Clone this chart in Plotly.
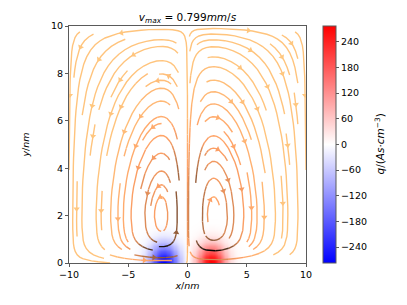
import math
import numpy as np
import plotly.graph_objects as go

# ---------------- values ----------------
x_limits = [-10.0, 10.0]
y_limits = [0.0, 10.0]
x_tick_vals = [-10, -5, 0, 5, 10]
y_tick_vals = [0, 2, 4, 6, 8, 10]
q_tick_vals = [-240, -180, -120, -60, 0, 60, 120, 180, 240]
q_limits = [-277.0, 277.0]
v_max_label = "0.799"

# charge clouds sitting on the lower wall (q in As/cm^3)
charge_centre_x = [-2.0, 2.0]
charge_peak = [-277.0, 277.0]
charge_width_x = [1.2, 1.2]
charge_width_y = [0.75, 0.75]

# stream-function shape parameters of the two counter-rotating cells
cell_decay_x = 2.35     # puts the cell centres at |x| ~ 2.2 nm
cell_layer_y = 0.6      # thickness of the fast layer above the charges
cell_offset_y = 0.5     # together with cell_decay_y puts the centres at y ~ 2 nm
cell_decay_y = 6.67
cell_centre = [2.2, 2.0]   # centre of the rounding factor
cell_round = [3.8, 5.2]    # x / y radii of the rounding factor

# ---------------- fields on a regular grid ----------------
xs = np.linspace(x_limits[0], x_limits[1], 201)
ys = np.linspace(y_limits[0], y_limits[1], 101)
X, Y = np.meshgrid(xs, ys)

q = np.zeros_like(X)
for xc, pk, wx, wy in zip(charge_centre_x, charge_peak, charge_width_x, charge_width_y):
    q += pk * np.exp(-((X - xc) / wx) ** 2 - (Y / wy) ** 2)

L = x_limits[1]
H = y_limits[1]
S = np.abs(X)
F = np.sign(X) * S ** 1.5 * np.exp(-S / cell_decay_x) * (1 - S / L) ** 2
G = (1 - np.exp(-(Y / cell_layer_y) ** 2)) * (Y + cell_offset_y) * (1 - Y / H) ** 2 * np.exp(-Y / cell_decay_y)
R = 1.0 / (1.0 + ((S - cell_centre[0]) / cell_round[0]) ** 2 + ((Y - cell_centre[1]) / cell_round[1]) ** 2)
psi = -F * G * R
U = np.gradient(psi, ys, axis=0)
V = -np.gradient(psi, xs, axis=1)
for arr in (U, V):
    arr[0, :] = 0.0
    arr[-1, :] = 0.0
    arr[:, 0] = 0.0
    arr[:, -1] = 0.0
speed = np.sqrt(U ** 2 + V ** 2)


# ---------------- streamline tracing (matplotlib-style) ----------------
class _OutOfBounds(Exception):
    pass


class _Terminate(Exception):
    pass


class _InvalidIndex(Exception):
    pass


def stream_trajectories(xs, ys, u, v, density=1.0, minlength=0.1, maxlength=4.0):
    ny, nx = u.shape
    dx = xs[1] - xs[0]
    dy = ys[1] - ys[0]
    mnx = mny = int(30 * density)
    mask = [[0] * mnx for _ in range(mny)]
    x_g2m = (mnx - 1) / (nx - 1)
    y_g2m = (mny - 1) / (ny - 1)
    x_m2g = 1.0 / x_g2m
    y_m2g = 1.0 / y_g2m
    ug_a = u / dx
    vg_a = v / dy
    spd = np.sqrt((ug_a / (nx - 1)) ** 2 + (vg_a / (ny - 1)) ** 2).tolist()
    ug = ug_a.tolist()
    vg = vg_a.tolist()
    st = {'cur': None, 'traj': []}

    def within(xi, yi):
        return 0 <= xi <= nx - 1 and 0 <= yi <= ny - 1

    def interp(a, xi, yi):
        x = int(xi)
        y = int(yi)
        xn = x if x == nx - 1 else x + 1
        yn = y if y == ny - 1 else y + 1
        xt = xi - x
        yt = yi - y
        a0 = a[y][x] * (1 - xt) + a[y][xn] * xt
        a1 = a[yn][x] * (1 - xt) + a[yn][xn] * xt
        return a0 * (1 - yt) + a1 * yt

    def make_f(sign):
        def f(xi, yi):
            if not within(xi, yi):
                raise _OutOfBounds
            ds_dt = interp(spd, xi, yi)
            if ds_dt == 0:
                raise _Terminate
            dt_ds = sign / ds_dt
            return interp(ug, xi, yi) * dt_ds, interp(vg, xi, yi) * dt_ds
        return f

    f_fwd = make_f(1.0)
    f_bwd = make_f(-1.0)

    def grid2mask(xi, yi):
        return round(xi * x_g2m), round(yi * y_g2m)

    def mask_update(xm, ym):
        if st['cur'] != (xm, ym):
            if mask[ym][xm] == 0:
                st['traj'].append((ym, xm))
                mask[ym][xm] = 1
                st['cur'] = (xm, ym)
            else:
                raise _InvalidIndex

    def update_traj(xg, yg):
        if not within(xg, yg):
            raise _InvalidIndex
        xm, ym = grid2mask(xg, yg)
        mask_update(xm, ym)

    def euler(traj, f):
        xi, yi = traj[-1]
        cx, cy = f(xi, yi)
        if cx == 0:
            dsx = math.inf
        elif cx < 0:
            dsx = xi / -cx
        else:
            dsx = (nx - 1 - xi) / cx
        if cy == 0:
            dsy = math.inf
        elif cy < 0:
            dsy = yi / -cy
        else:
            dsy = (ny - 1 - yi) / cy
        ds = min(dsx, dsy)
        traj.append((xi + cx * ds, yi + cy * ds))
        return ds

    maxds = min(1.0 / mnx, 1.0 / mny, 0.1)

    def rk12(x0, y0, f):
        maxerror = 0.003
        ds = maxds
        stotal = 0.0
        xi, yi = x0, y0
        traj = []
        while True:
            try:
                if within(xi, yi):
                    traj.append((xi, yi))
                else:
                    raise _OutOfBounds
                k1x, k1y = f(xi, yi)
                k2x, k2y = f(xi + ds * k1x, yi + ds * k1y)
            except _OutOfBounds:
                if traj:
                    try:
                        stotal += euler(traj, f)
                    except (_Terminate, _OutOfBounds):
                        pass
                break
            except _Terminate:
                break
            dx1 = ds * k1x
            dy1 = ds * k1y
            dx2 = ds * 0.5 * (k1x + k2x)
            dy2 = ds * 0.5 * (k1y + k2y)
            error = math.hypot((dx2 - dx1) / (nx - 1), (dy2 - dy1) / (ny - 1))
            if error < maxerror:
                xi += dx2
                yi += dy2
                try:
                    update_traj(xi, yi)
                except _InvalidIndex:
                    break
                if stotal + ds > maxlength:
                    break
                stotal += ds
            if error == 0:
                ds = maxds
            else:
                ds = min(maxds, 0.85 * ds * (maxerror / error) ** 0.5)
        return stotal, traj

    def integrate(x0, y0):
        st['traj'] = []
        xm, ym = grid2mask(x0, y0)
        try:
            mask_update(xm, ym)
        except _InvalidIndex:
            return None
        s, xyt = rk12(x0, y0, f_bwd)
        stotal = s
        xy = xyt[::-1]
        st['cur'] = grid2mask(x0, y0)
        s, xyt = rk12(x0, y0, f_fwd)
        stotal += s
        xy += xyt[1:]
        if stotal > minlength:
            return xy
        for (yy, xx) in st['traj']:
            mask[yy][xx] = 0
        return None

    def starting_points(nyy, nxx):
        xfirst, yfirst = 0, 1
        xlast, ylast = nxx - 1, nyy - 1
        x, y = 0, 0
        direction = 'right'
        for _ in range(nxx * nyy):
            yield x, y
            if direction == 'right':
                x += 1
                if x >= xlast:
                    xlast -= 1
                    direction = 'up'
            elif direction == 'up':
                y += 1
                if y >= ylast:
                    ylast -= 1
                    direction = 'left'
            elif direction == 'left':
                x -= 1
                if x <= xfirst:
                    xfirst += 1
                    direction = 'down'
            elif direction == 'down':
                y -= 1
                if y <= yfirst:
                    yfirst += 1
                    direction = 'right'

    out = []
    for xm, ym in starting_points(mny, mnx):
        if mask[ym][xm] == 0:
            t = integrate(xm * x_m2g, ym * y_m2g)
            if t is not None:
                out.append(t)
    result = []
    for t in out:
        arr = np.array(t)
        result.append((xs[0] + arr[:, 0] * dx, ys[0] + arr[:, 1] * dy, arr[:, 0], arr[:, 1]))
    return result


def copper_r(t):
    vv = 1.0 - min(max(t, 0.0), 1.0)
    r = min(1.0, vv / 0.809524)
    g = 0.7812 * vv
    b = 0.4975 * vv
    return 'rgb(%d,%d,%d)' % (round(r * 255), round(g * 255), round(b * 255))


def grid_interp(a, gx, gy):
    ny, nx = a.shape
    x = np.clip(gx.astype(int), 0, nx - 1)
    y = np.clip(gy.astype(int), 0, ny - 1)
    xn = np.where(x == nx - 1, x, x + 1)
    yn = np.where(y == ny - 1, y, y + 1)
    xt = gx - x
    yt = gy - y
    a0 = a[y, x] * (1 - xt) + a[y, xn] * xt
    a1 = a[yn, x] * (1 - xt) + a[yn, xn] * xt
    return a0 * (1 - yt) + a1 * yt


trajs = stream_trajectories(xs, ys, U, V, density=1.0)

# ---------------- figure (pixel layout of the reference) ----------------
W, Hf = 407, 305
PL, PR, PT, PB = 69, 306, 26, 263   # plot-area edges in pixels
fig = go.Figure()
fig.add_trace(go.Heatmap(
    x=xs, y=ys, z=q, zmin=q_limits[0], zmax=q_limits[1], zsmooth='best',
    colorscale=[[0.0, 'rgb(0,0,255)'], [0.5, 'rgb(255,255,255)'], [1.0, 'rgb(255,0,0)']],
    hoverinfo='skip',
    colorbar=dict(
        x=323 / W, xanchor='left', xref='paper', xpad=0,
        y=1 - (PT + PB) / 2 / Hf, yanchor='middle', yref='paper', ypad=0,
        len=(PB - PT) / Hf, lenmode='fraction',
        thickness=13, outlinewidth=1, outlinecolor='rgb(90,90,90)',
        tickvals=q_tick_vals, ticks='outside', ticklen=3, tickcolor='rgb(90,90,90)',
        tickfont=dict(family='DejaVu Sans', size=9.5, color='black'),
    ),
))

NB = 32
vmax = float(speed.max())
bins_x = [[] for _ in range(NB)]
bins_y = [[] for _ in range(NB)]
arr_x, arr_y, arr_ang, arr_col = [], [], [], []
px_x = (PR - PL) / (x_limits[1] - x_limits[0])
px_y = (PB - PT) / (y_limits[1] - y_limits[0])
for tx, ty, gx, gy in trajs:
    cv = grid_interp(speed, gx, gy)[:-1] / vmax
    bi = np.minimum((cv * NB).astype(int), NB - 1)
    start = 0
    n = len(cv)
    for i in range(1, n + 1):
        if i == n or bi[i] != bi[start]:
            b = bi[start]
            bins_x[b].extend(list(tx[start:i + 1]) + [None])
            bins_y[b].extend(list(ty[start:i + 1]) + [None])
            start = i
    s = np.cumsum(np.hypot(np.diff(tx), np.diff(ty)))
    k = int(np.searchsorted(s, s[-1] / 2.0))
    k = min(k, len(tx) - 2)
    hx = 0.5 * (tx[k] + tx[k + 1])
    hy = 0.5 * (ty[k] + ty[k + 1])
    ddx = (hx - tx[k]) * px_x
    ddy = (hy - ty[k]) * px_y
    arr_x.append(hx)
    arr_y.append(hy)
    arr_ang.append(math.degrees(math.atan2(ddx, ddy)))
    arr_col.append(copper_r(cv[min(k, n - 1)]))

for b in range(NB):
    if bins_x[b]:
        fig.add_trace(go.Scatter(
            x=bins_x[b], y=bins_y[b], mode='lines',
            line=dict(color=copper_r((b + 0.5) / NB), width=1.4),
            hoverinfo='skip', showlegend=False))

fig.add_trace(go.Scatter(
    x=arr_x, y=arr_y, mode='markers',
    marker=dict(symbol='triangle-up', size=5.5, angle=arr_ang, color=arr_col, line=dict(width=0)),
    hoverinfo='skip', showlegend=False))

axis_col = 'rgb(90,90,90)'
tick_font = dict(family='DejaVu Sans', size=9.5, color='black')
fig.update_layout(
    width=W, height=Hf,
    margin=dict(l=0, r=0, t=0, b=0, pad=0, autoexpand=False),
    paper_bgcolor='white', plot_bgcolor='white',
    font=dict(family='DejaVu Sans', size=9.5, color='black'),
    title=dict(text='<i>v</i><sub><i>max</i></sub> = ' + v_max_label + '<i>mm</i>/<i>s</i>',
               x=(PL + PR) / 2 / W, xref='container', xanchor='center',
               y=1 - 17 / Hf, yref='container', yanchor='middle',
               font=dict(family='DejaVu Sans', size=10.5, color='black')),
    xaxis=dict(domain=[PL / W, PR / W], range=x_limits, tickvals=x_tick_vals,
               ticks='outside', ticklen=3,
               tickcolor=axis_col, showline=True, linecolor=axis_col, linewidth=1,
               mirror=True, showgrid=False, zeroline=False, tickfont=tick_font,
               automargin=False,
               title=dict(text='<i>x</i>/<i>nm</i>', standoff=1, font=tick_font)),
    yaxis=dict(domain=[1 - PB / Hf, 1 - PT / Hf], range=y_limits, tickvals=y_tick_vals,
               ticks='outside', ticklen=3,
               tickcolor=axis_col, showline=True, linecolor=axis_col, linewidth=1,
               mirror=True, showgrid=False, zeroline=False, tickfont=tick_font,
               automargin=False,
               title=dict(text='<i>y</i>/<i>nm</i>', standoff=19, font=tick_font)),
    annotations=[dict(text='<i>q</i>/(<i>As</i>·<i>cm</i><sup>−3</sup>)',
                      x=379 / W, y=1 - (PT + PB) / 2 / Hf, xref='paper', yref='paper',
                      xanchor='center', yanchor='middle', textangle=-90, showarrow=False,
                      font=dict(family='DejaVu Sans', size=10.5, color='black'))],
)

fig.write_html("out.html", config={'displayModeBar': False},
               post_script="document.body.style.margin='0px';")
